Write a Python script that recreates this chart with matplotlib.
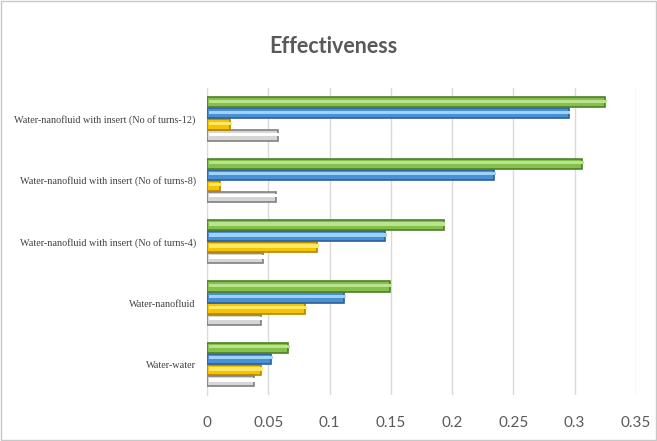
import numpy as np
import matplotlib
matplotlib.use("Agg")
import matplotlib.pyplot as plt
from matplotlib.patches import Rectangle

categories = [
    "Water-water",
    "Water-nanofluid",
    "Water-nanofluid with insert (No of turns-4)",
    "Water-nanofluid with insert (No of turns-8)",
    "Water-nanofluid with insert (No of turns-12)",
]
# series from bottom bar to top bar in each group
series_gray = [0.038, 0.044, 0.046, 0.056, 0.058]
series_yellow = [0.044, 0.080, 0.090, 0.011, 0.019]
series_blue = [0.052, 0.112, 0.145, 0.234, 0.295]
series_green = [0.066, 0.149, 0.193, 0.306, 0.325]
xticks = [0, 0.05, 0.1, 0.15, 0.2, 0.25, 0.3, 0.35]
xticklabels = ["0", "0.05", "0.1", "0.15", "0.2", "0.25", "0.3", "0.35"]

series = [series_gray, series_yellow, series_blue, series_green]
# (face, edge, highlight)
styles = [
    ("#d6d6d6", "#808080", "#ffffff"),
    ("#f5c400", "#b38600", "#ffe866"),
    ("#4a90d6", "#2f5f95", "#9fd2f7"),
    ("#84c04a", "#4f7f2a", "#b9e38c"),
]

fig = plt.figure(figsize=(6.57, 4.41), dpi=100)
fig.patches.append(Rectangle((0.002, 0.002), 0.996, 0.996, transform=fig.transFigure,
                             fill=False, edgecolor="#c8c8c8", linewidth=1.0))
ax = fig.add_axes([0.315, 0.104, 0.653, 0.696])

y = np.arange(len(categories))
h = 0.18
offsets = [-1.5 * h, -0.5 * h, 0.5 * h, 1.5 * h]
for vals, off, (fc, ec, hl) in zip(series, offsets, styles):
    ax.barh(y + off, vals, height=h * 0.92, color=fc, edgecolor=ec, linewidth=1.2, zorder=3)
    ax.barh(y + off + h * 0.1, vals, height=h * 0.3, color=hl, linewidth=0,
            left=0.0015, zorder=4)

ax.set_ylim(-0.5, len(categories) - 0.5)
ax.set_xlim(0, 0.35)
ax.set_xticks(xticks)
ax.set_xticklabels(xticklabels, fontfamily=["Lato", "DejaVu Sans"],
                   fontsize=11, color="#595959")
ax.set_yticks(y)
ax.set_yticklabels(categories, fontfamily=["Liberation Serif", "DejaVu Serif"],
                   fontsize=7.3, color="#404040")
ax.tick_params(axis="x", length=0, pad=15)
ax.tick_params(axis="y", length=0, pad=8)
ax.xaxis.grid(True, color="#d9d9d9", linewidth=1.0, zorder=0)
for s in ["top", "right", "bottom"]:
    ax.spines[s].set_visible(False)
ax.spines["left"].set_color("#d9d9d9")

fig.text(0.508, 0.895, "Effectiveness", ha="center", va="center", fontsize=15.5, fontweight="bold",
         color="#595959", family=["Lato", "DejaVu Sans"])

fig.savefig("out.png", dpi=100)
